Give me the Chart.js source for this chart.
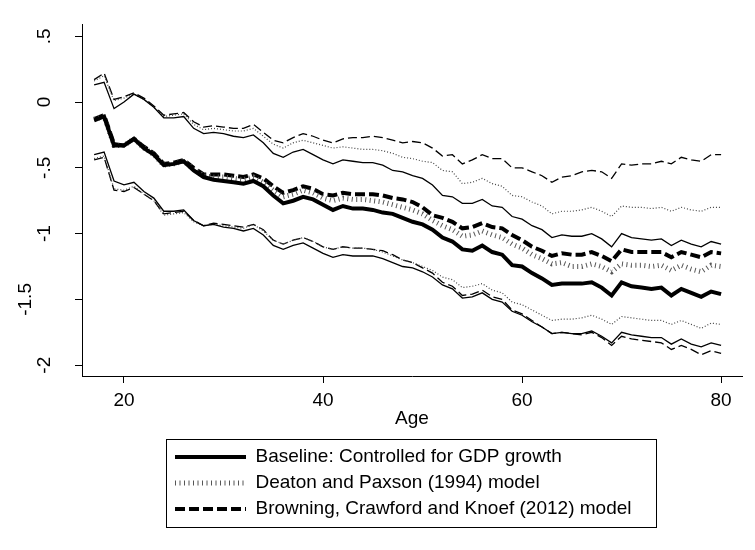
<!DOCTYPE html>
<html>
<head>
<meta charset="utf-8">
<script src="https://cdn.jsdelivr.net/npm/chart.js@4"></script>
<style>
  html, body { margin: 0; padding: 0; background: #fff; }
  #wrap { width: 755px; height: 550px; }
</style>
</head>
<body>
<div id="wrap"><canvas id="chart" width="755" height="550"></canvas></div>
<script>
// ages on the x axis
const ages = [17, 18, 19, 20, 21, 22, 23, 24, 25, 26, 27, 28, 29, 30, 31, 32,
  33, 34, 35, 36, 37, 38, 39, 40, 41, 42, 43, 44, 45, 46, 47, 48,
  49, 50, 51, 52, 53, 54, 55, 56, 57, 58, 59, 60, 61, 62, 63, 64,
  65, 66, 67, 68, 69, 70, 71, 72, 73, 74, 75, 76, 77, 78, 79, 80];

// Baseline: Controlled for GDP growth (estimate + 95% band)
const baseline = [-0.14, -0.11, -0.33, -0.33, -0.28, -0.35, -0.40, -0.48,
  -0.47, -0.45, -0.52, -0.57, -0.59, -0.60, -0.61, -0.62,
  -0.60, -0.64, -0.71, -0.77, -0.75, -0.72, -0.74, -0.78,
  -0.82, -0.79, -0.81, -0.81, -0.82, -0.84, -0.85, -0.88,
  -0.91, -0.93, -0.97, -1.03, -1.06, -1.12, -1.13, -1.09,
  -1.14, -1.16, -1.24, -1.25, -1.30, -1.34, -1.39, -1.38,
  -1.38, -1.38, -1.37, -1.41, -1.47, -1.37, -1.40, -1.41,
  -1.42, -1.41, -1.47, -1.42, -1.45, -1.48, -1.44, -1.46];
const baselineHi = [0.13, 0.15, -0.05, 0.00, 0.06, 0.02, -0.04, -0.12,
  -0.12, -0.11, -0.20, -0.24, -0.23, -0.24, -0.26, -0.27,
  -0.25, -0.31, -0.39, -0.42, -0.38, -0.36, -0.40, -0.44,
  -0.47, -0.44, -0.45, -0.46, -0.46, -0.48, -0.52, -0.53,
  -0.56, -0.58, -0.63, -0.71, -0.72, -0.77, -0.77, -0.74,
  -0.79, -0.80, -0.87, -0.89, -0.94, -0.97, -1.03, -1.01,
  -1.02, -1.02, -1.00, -1.04, -1.10, -1.00, -1.03, -1.04,
  -1.05, -1.04, -1.09, -1.05, -1.08, -1.10, -1.06, -1.08];
const baselineLo = [-0.40, -0.38, -0.60, -0.63, -0.61, -0.68, -0.73, -0.83,
  -0.83, -0.82, -0.90, -0.94, -0.93, -0.95, -0.96, -0.98,
  -0.96, -1.01, -1.09, -1.12, -1.09, -1.07, -1.11, -1.15,
  -1.18, -1.16, -1.17, -1.17, -1.17, -1.19, -1.22, -1.25,
  -1.26, -1.29, -1.33, -1.39, -1.42, -1.49, -1.48, -1.45,
  -1.50, -1.52, -1.59, -1.62, -1.67, -1.71, -1.76, -1.75,
  -1.76, -1.76, -1.74, -1.78, -1.83, -1.75, -1.77, -1.78,
  -1.79, -1.79, -1.84, -1.80, -1.84, -1.86, -1.83, -1.85];

// Deaton and Paxson (1994) model
const deaton = [-0.13, -0.11, -0.33, -0.33, -0.28, -0.35, -0.40, -0.48,
  -0.47, -0.45, -0.51, -0.56, -0.57, -0.57, -0.58, -0.59,
  -0.57, -0.61, -0.67, -0.72, -0.70, -0.67, -0.69, -0.73,
  -0.75, -0.73, -0.74, -0.74, -0.75, -0.76, -0.78, -0.80,
  -0.82, -0.85, -0.90, -0.94, -0.97, -1.02, -1.01, -0.98,
  -1.01, -1.03, -1.08, -1.11, -1.16, -1.19, -1.23, -1.22,
  -1.25, -1.25, -1.23, -1.25, -1.29, -1.23, -1.24, -1.24,
  -1.25, -1.24, -1.28, -1.24, -1.27, -1.29, -1.24, -1.25];
const deatonHi = [0.16, 0.20, 0.01, 0.03, 0.06, 0.02, -0.04, -0.11,
  -0.10, -0.09, -0.17, -0.21, -0.20, -0.21, -0.22, -0.22,
  -0.20, -0.26, -0.32, -0.35, -0.31, -0.29, -0.31, -0.33,
  -0.35, -0.34, -0.35, -0.36, -0.36, -0.37, -0.39, -0.42,
  -0.43, -0.45, -0.46, -0.52, -0.53, -0.62, -0.61, -0.58,
  -0.62, -0.64, -0.71, -0.72, -0.76, -0.79, -0.85, -0.83,
  -0.83, -0.82, -0.80, -0.83, -0.87, -0.79, -0.80, -0.80,
  -0.81, -0.80, -0.83, -0.80, -0.82, -0.83, -0.80, -0.80];
const deatonLo = [-0.43, -0.41, -0.66, -0.67, -0.64, -0.70, -0.75, -0.86,
  -0.85, -0.84, -0.91, -0.94, -0.93, -0.94, -0.95, -0.96,
  -0.93, -0.98, -1.05, -1.08, -1.05, -1.03, -1.06, -1.10,
  -1.12, -1.10, -1.11, -1.11, -1.12, -1.14, -1.17, -1.20,
  -1.22, -1.25, -1.28, -1.33, -1.35, -1.41, -1.40, -1.38,
  -1.43, -1.45, -1.52, -1.54, -1.58, -1.62, -1.66, -1.65,
  -1.65, -1.64, -1.62, -1.65, -1.69, -1.63, -1.64, -1.65,
  -1.66, -1.66, -1.69, -1.66, -1.69, -1.72, -1.68, -1.69];

// Browning, Crawford and Knoef (2012) model
const browning = [-0.13, -0.10, -0.32, -0.33, -0.28, -0.34, -0.39, -0.47,
  -0.46, -0.44, -0.50, -0.55, -0.55, -0.55, -0.56, -0.57,
  -0.55, -0.58, -0.64, -0.69, -0.67, -0.64, -0.66, -0.70,
  -0.71, -0.69, -0.70, -0.70, -0.70, -0.71, -0.73, -0.74,
  -0.76, -0.80, -0.86, -0.88, -0.91, -0.96, -0.95, -0.92,
  -0.95, -0.96, -1.01, -1.05, -1.10, -1.13, -1.17, -1.15,
  -1.16, -1.16, -1.14, -1.17, -1.21, -1.12, -1.14, -1.14,
  -1.14, -1.14, -1.18, -1.14, -1.16, -1.18, -1.14, -1.15];
const browningHi = [0.17, 0.22, 0.02, 0.04, 0.07, 0.03, -0.03, -0.10,
  -0.09, -0.08, -0.15, -0.19, -0.18, -0.19, -0.20, -0.20,
  -0.17, -0.23, -0.29, -0.31, -0.27, -0.24, -0.26, -0.29,
  -0.31, -0.28, -0.27, -0.27, -0.26, -0.27, -0.29, -0.31,
  -0.30, -0.31, -0.35, -0.41, -0.40, -0.47, -0.44, -0.40,
  -0.43, -0.43, -0.50, -0.50, -0.53, -0.56, -0.61, -0.57,
  -0.56, -0.53, -0.52, -0.53, -0.58, -0.47, -0.48, -0.47,
  -0.47, -0.45, -0.47, -0.42, -0.44, -0.45, -0.40, -0.40];
const browningLo = [-0.44, -0.42, -0.67, -0.68, -0.65, -0.70, -0.75, -0.85,
  -0.84, -0.83, -0.90, -0.94, -0.92, -0.93, -0.94, -0.95,
  -0.93, -0.97, -1.05, -1.08, -1.05, -1.03, -1.06, -1.10,
  -1.12, -1.10, -1.11, -1.11, -1.12, -1.13, -1.16, -1.20,
  -1.22, -1.26, -1.30, -1.37, -1.40, -1.47, -1.46, -1.43,
  -1.48, -1.50, -1.58, -1.61, -1.66, -1.71, -1.76, -1.75,
  -1.76, -1.77, -1.75, -1.79, -1.85, -1.78, -1.80, -1.81,
  -1.82, -1.83, -1.88, -1.85, -1.88, -1.92, -1.89, -1.91];

// axis ticks
const xTicks = [20, 40, 60, 80];
const yTicks = [-2, -1.5, -1, -0.5, 0, 0.5];
const yTickLabels = ['-2', '-1.5', '-1', '-.5', '0', '.5'];

Chart.defaults.font.family = '"Liberation Sans", Arial, sans-serif';
Chart.defaults.font.size = 19;
Chart.defaults.color = '#000';

function pts(vals) {
    return ages.map((a, i) => ({ x: a, y: vals[i] }));
}

function line(label, vals, width, dash, color) {
    return {
        label: label,
        data: pts(vals),
        borderColor: color || '#000',
        borderWidth: width,
        borderDash: dash,
        pointRadius: 0,
        fill: false,
        tension: 0
    };
}

// legend sits in a framed box under the axis title, like the Stata one
const legendFrame = {
    id: 'legendFrame',
    afterLayout(chart) {
        const lg = chart.legend;
        lg.left = 168; lg.right = 662;
        lg.top = 440.5; lg.bottom = 530;
        lg.width = lg.right - lg.left;
        lg.height = lg.bottom - lg.top;
    },
    afterDraw(chart) {
        const c = chart.ctx;
        c.save();
        c.strokeStyle = '#000';
        c.lineWidth = 1;
        c.strokeRect(166.5, 439.5, 490, 88);
        c.restore();
    }
};

const ctx = document.getElementById('chart').getContext('2d');
new Chart(ctx, {
    type: 'line',
    data: {
        datasets: [
            line('Baseline: Controlled for GDP growth', baseline, 4, []),
            line('Deaton and Paxson (1994) model', deaton, 5, [1, 3.5], '#555'),
            line('Browning, Crawford and Knoef (2012) model', browning, 4, [10, 4]),
            line('baseline hi', baselineHi, 1.3, []),
            line('baseline lo', baselineLo, 1.3, []),
            line('deaton hi', deatonHi, 1.2, [1, 2], '#444'),
            line('deaton lo', deatonLo, 1.2, [1, 2], '#444'),
            line('browning hi', browningHi, 1.3, [9, 4]),
            line('browning lo', browningLo, 1.3, [9, 4])
        ]
    },
    plugins: [legendFrame],
    options: {
        responsive: false,
        animation: false,
        events: [],
        layout: { padding: { top: 24, right: 13, bottom: 119, left: 0 } },
        scales: {
            x: {
                type: 'linear',
                min: 15.78,
                max: 82.1,
                afterBuildTicks: (s) => { s.ticks = xTicks.map(v => ({ value: v })); },
                afterFit: (s) => { s.height = 54; },
                grid: { drawOnChartArea: false, tickLength: 7, color: '#000' },
                border: { display: true, color: '#000', width: 1 },
                ticks: { padding: 6, maxRotation: 0 },
                title: { display: true, text: 'Age', padding: { top: 0, bottom: 0 } }
            },
            y: {
                type: 'linear',
                min: -2.082,
                max: 0.593,
                afterBuildTicks: (s) => { s.ticks = yTicks.map(v => ({ value: v })); },
                afterFit: (s) => { s.width = 82; },
                grid: { drawOnChartArea: false, tickLength: 7, color: '#000' },
                border: { display: true, color: '#000', width: 1 },
                ticks: {
                    minRotation: 90,
                    maxRotation: 90,
                    crossAlign: 'center',
                    padding: 14,
                    font: { lineHeight: 1 },
                    callback: (v) => {
                        const lab = yTickLabels[yTicks.indexOf(v)];
                        // Stata pushes the long -1.5 label further out
                        return lab === '-1.5' ? [lab, '', ''] : lab;
                    }
                }
            }
        },
        plugins: {
            tooltip: { enabled: false },
            legend: {
                position: 'bottom',
                align: 'start',
                maxHeight: 1,
                labels: {
                    usePointStyle: true,
                    pointStyle: 'line',
                    pointStyleWidth: 71,
                    padding: 7,
                    color: '#000',
                    // only the three point estimates, drawn with their own line style
                    generateLabels: (chart) => chart.data.datasets.slice(0, 3).map((ds, i) => ({
                        text: ds.label,
                        datasetIndex: i,
                        strokeStyle: ds.borderColor,
                        fillStyle: ds.borderColor,
                        lineWidth: ds.borderWidth,
                        lineDash: ds.borderDash,
                        lineCap: 'butt',
                        pointStyle: 'line',
                        hidden: false
                    }))
                }
            }
        }
    }
});
</script>
</body>
</html>
